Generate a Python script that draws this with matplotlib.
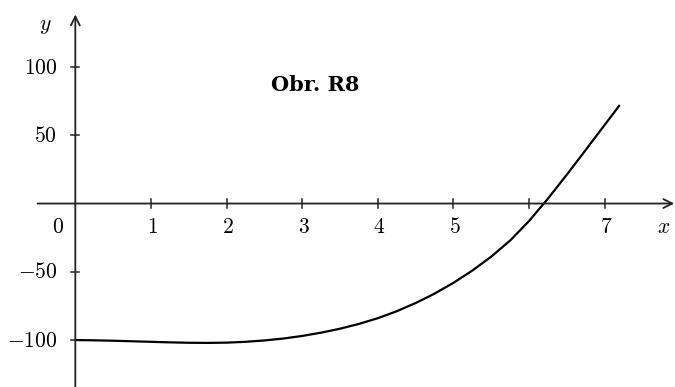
import matplotlib.pyplot as plt

plt.rcParams['mathtext.fontset'] = 'cm'

# curve values read along x
curve_x = [0, 0.25, 0.5, 0.75, 1.0, 1.25, 1.5, 1.75, 2.0, 2.25, 2.5, 2.75, 3.0,
           3.25, 3.5, 3.75, 4.0, 4.25, 4.5, 4.75, 5.0, 5.25, 5.5, 5.75, 6.0,
           6.25, 6.5, 6.75, 7.0, 7.2]
curve_y = [-100, -100.2, -100.5, -100.9, -101.3, -101.7, -102.0, -102.1, -101.9,
           -101.3, -100.3, -98.9, -97.0, -94.6, -91.7, -88.2, -84.0, -78.9,
           -72.9, -66.0, -58.1, -49.1, -38.9, -27.1, -12.8, 3.6, 21.2, 39.3,
           57.6, 72.2]

x_ticks = [1, 2, 3, 4, 5, 6, 7]
x_labels = ['1', '2', '3', '4', '5', '', '7']
y_ticks = [100, 50, -50, -100]
y_labels = ['100', '50', '-50', '-100']

fig = plt.figure(figsize=(6.75, 3.87), dpi=100)
ax = fig.add_axes([0, 0, 1, 1])
ax.set_xlim(-0.996, 7.93)
ax.set_ylim(-134.4, 149.1)
ax.axis('off')

axis_col = '#222222'
fs = 15.5

# axes with open arrow heads
ax.annotate('', xy=(7.92, 0), xytext=(-0.5, 0),
            arrowprops=dict(arrowstyle='->', color=axis_col, lw=1.3,
                            shrinkA=0, shrinkB=0, mutation_scale=16))
ax.annotate('', xy=(0, 138.5), xytext=(0, -134.4),
            arrowprops=dict(arrowstyle='->', color=axis_col, lw=1.3,
                            shrinkA=0, shrinkB=0, mutation_scale=16))

tick_dx = 0.055
tick_dy = 3.2
for xt, lab in zip(x_ticks, x_labels):
    ax.plot([xt, xt], [-tick_dy, tick_dy], color=axis_col, lw=1.1)
    if lab:
        ax.text(xt + 0.02, -17.2, '$%s$' % lab, ha='center', va='center', fontsize=fs)
for yt, lab in zip(y_ticks, y_labels):
    ax.plot([-tick_dx, tick_dx], [yt, yt], color=axis_col, lw=1.1)
    ax.text(-0.24, yt - 0.5, '$%s$' % lab, ha='right', va='center', fontsize=fs)

ax.text(-0.235, -17.2, '$0$', ha='center', va='center', fontsize=fs)
ax.text(-0.4, 130, '$y$', ha='center', va='center', fontsize=fs)
ax.text(7.78, -17.5, '$x$', ha='center', va='center', fontsize=fs)
ax.text(3.17, 87, 'Obr. R8', ha='center', va='center', fontsize=15,
        family='DejaVu Serif', fontweight='bold')

ax.plot(curve_x, curve_y, color='black', lw=1.6, solid_capstyle='butt',
        solid_joinstyle='round')

fig.savefig('out.png', dpi=100)
